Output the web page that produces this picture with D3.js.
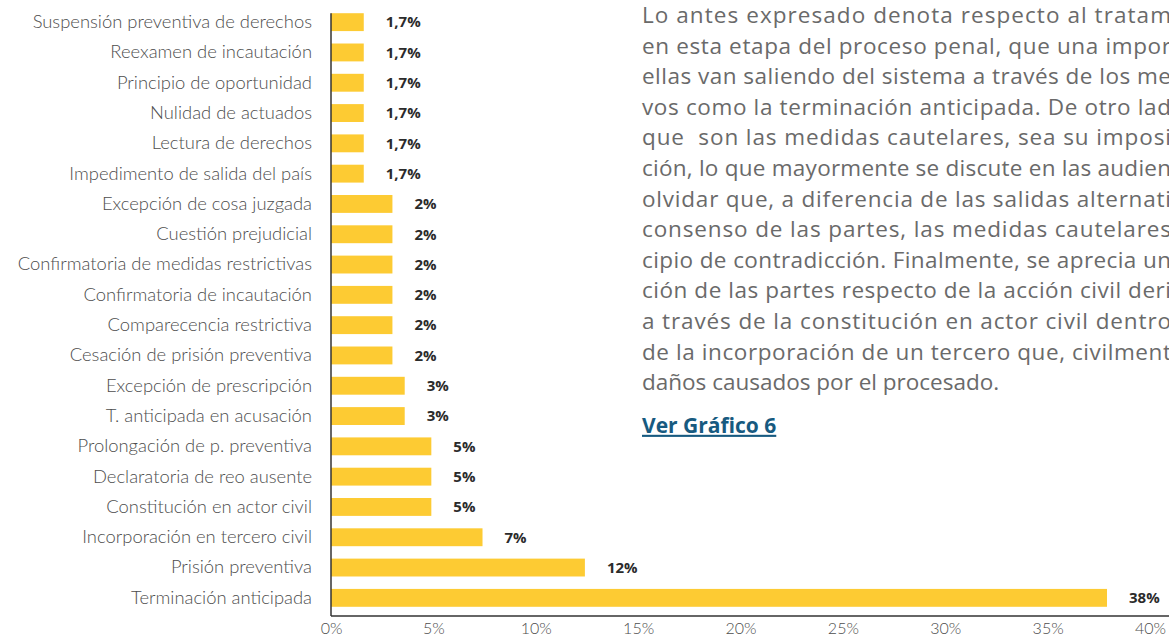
<!DOCTYPE html>
<html>
<head>
<meta charset="utf-8">
<script src="https://cdn.jsdelivr.net/npm/d3@7"></script>
<style>
  body { margin: 0; background: #fff; }
  svg { display: block; }
</style>
</head>
<body>
<div id="chart"></div>
<script>
// categories, top to bottom
var categories = [
  "Suspensión preventiva de derechos",
  "Reexamen de incautación",
  "Principio de oportunidad",
  "Nulidad de actuados",
  "Lectura de derechos",
  "Impedimento de salida del país",
  "Excepción de cosa juzgada",
  "Cuestión prejudicial",
  "Confirmatoria de medidas restrictivas",
  "Confirmatoria de incautación",
  "Comparecencia restrictiva",
  "Cesación de prisión preventiva",
  "Excepción de prescripción",
  "T. anticipada en acusación",
  "Prolongación de p. preventiva",
  "Declaratoria de reo ausente",
  "Constitución en actor civil",
  "Incorporación en tercero civil",
  "Prisión preventiva",
  "Terminación anticipada"
];
// bar lengths (percent)
var values = [1.6, 1.6, 1.6, 1.6, 1.6, 1.6, 3.0, 3.0, 3.0, 3.0, 3.0, 3.0, 3.6, 3.6, 4.9, 4.9, 4.9, 7.4, 12.4, 37.9];
// printed value labels
var valueLabels = ["1,7%", "1,7%", "1,7%", "1,7%", "1,7%", "1,7%", "2%", "2%", "2%", "2%", "2%", "2%", "3%", "3%", "5%", "5%", "5%", "7%", "12%", "38%"];
var xTicks = [0, 5, 10, 15, 20, 25, 30, 35, 40];

// paragraph beside the chart (cut at the page edge in the original)
var paraLines = [
  "Lo antes expresado denota respecto al tratam",
  "en esta etapa del proceso penal, que una impor",
  "ellas van saliendo del sistema a través de los me",
  "vos como la terminación anticipada. De otro lad",
  "que  son las medidas cautelares, sea su imposi",
  "ción, lo que mayormente se discute en las audien",
  "olvidar que, a diferencia de las salidas alternati",
  "consenso de las partes, las medidas cautelares",
  "cipio de contradicción. Finalmente, se aprecia un",
  "ción de las partes respecto de la acción civil deri",
  "a través de la constitución en actor civil dentro",
  "de la incorporación de un tercero que, civilment",
  "daños causados por el procesado."
];
var linkText = "Ver Gráfico 6";

var width = 1169, height = 639;
var data = categories.map((c, i) => ({cat: c, value: values[i], label: valueLabels[i]}));

var svg = d3.select('#chart').append('svg')
  .attr('width', width)
  .attr('height', height);

var xScale = d3.scaleLinear().domain([0, 40]).range([331, 1150]);
var yScale = d3.scaleBand()
  .domain(categories)
  .range([7, 613])
  .paddingInner(0.41)
  .paddingOuter(0.205);

var axisY = 616;

// bars
svg.append('g')
  .selectAll('rect')
  .data(data)
  .join('rect')
    .attr('x', xScale(0))
    .attr('y', d => yScale(d.cat))
    .attr('width', d => xScale(d.value) - xScale(0))
    .attr('height', yScale.bandwidth())
    .attr('fill', '#fdcb33');

// value labels
svg.append('g')
  .selectAll('text')
  .data(data)
  .join('text')
    .attr('x', d => xScale(d.value) + 22)
    .attr('y', d => yScale(d.cat) + yScale.bandwidth() / 2)
    .attr('dy', '0.35em')
    .style('font-family', '"Open Sans", sans-serif')
    .style('font-weight', 700)
    .style('font-size', '15px')
    .style('fill', '#2b2b2b')
    .text(d => d.label);

// y axis
var yAxis = d3.axisLeft(yScale).tickSize(0).tickPadding(19);
svg.append('g')
  .attr('transform', `translate(${xScale(0)},0)`)
  .call(yAxis)
  .call(g => g.select('.domain').remove())
  .selectAll('text')
    .style('font-family', 'Lato, sans-serif')
    .style('font-weight', 300)
    .style('font-size', '18.4px')
    .style('fill', '#4d4d4d');

// x axis
var xAxis = d3.axisBottom(xScale)
  .tickValues(xTicks)
  .tickFormat(d => d + '%')
  .tickSize(0)
  .tickPadding(7);
svg.append('g')
  .attr('transform', `translate(0,${axisY})`)
  .call(xAxis)
  .call(g => g.select('.domain').remove())
  .selectAll('text')
    .style('font-family', 'Lato, sans-serif')
    .style('font-weight', 300)
    .style('font-size', '16px')
    .style('fill', '#4d4d4d');

// axis lines
svg.append('line')
  .attr('x1', xScale(0)).attr('x2', xScale(0))
  .attr('y1', yScale(categories[0])).attr('y2', axisY)
  .attr('stroke', '#333').attr('stroke-width', 1.5);
svg.append('line')
  .attr('x1', xScale(0)).attr('x2', width)
  .attr('y1', axisY).attr('y2', axisY)
  .attr('stroke', '#333').attr('stroke-width', 1.5);

// paragraph
var para = svg.append('g').attr('transform', 'translate(642,0)');
para.selectAll('text')
  .data(paraLines)
  .join('text')
    .attr('x', 0)
    .attr('y', (d, i) => 23 + i * 30.6)
    .style('font-family', '"Open Sans", sans-serif')
    .style('font-size', '22.5px')
    .style('fill', '#6a6a6a')
    .style('white-space', 'pre')
    .each(function(d, i) {
      var t = d3.select(this).text(d);
      if (i < paraLines.length - 1) {
        t.attr('textLength', width - 642 + 2).attr('lengthAdjust', 'spacing');
      }
    });

para.append('text')
  .attr('x', 0)
  .attr('y', 23 + paraLines.length * 30.6 + 12)
  .style('font-family', '"Open Sans", sans-serif')
  .style('font-weight', 700)
  .style('font-size', '21px')
  .style('fill', '#175a80')
  .style('text-decoration', 'underline')
  .text(linkText);
</script>
</body>
</html>
